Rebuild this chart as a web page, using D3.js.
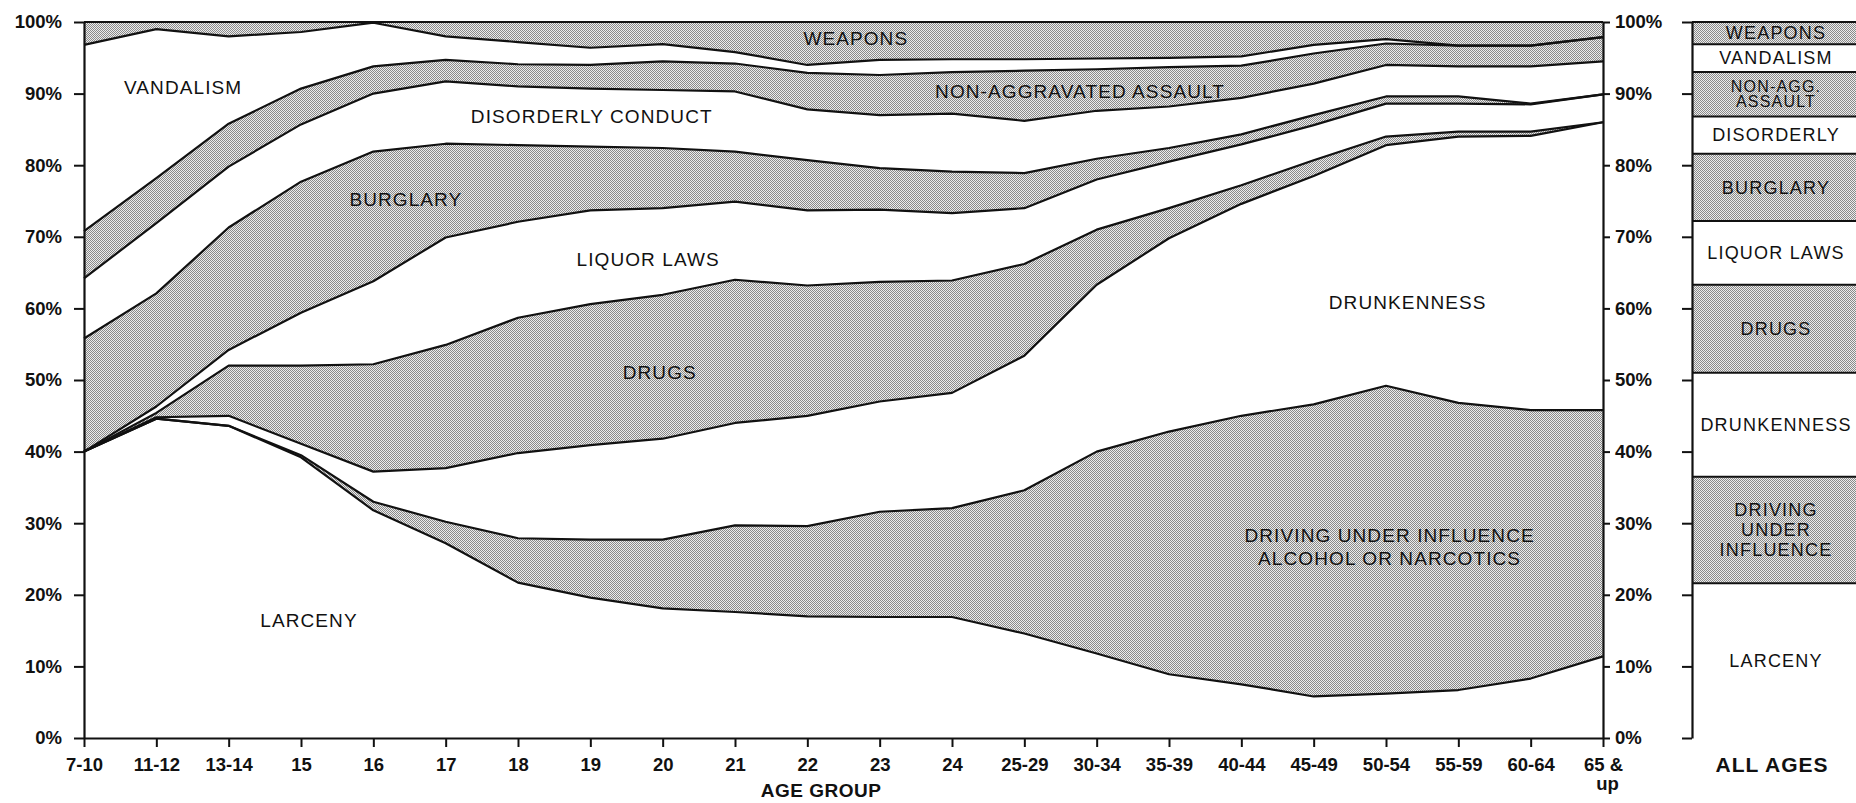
<!DOCTYPE html>
<html><head><meta charset="utf-8">
<script src="https://cdn.jsdelivr.net/npm/d3@7"></script>
<style>
html,body{margin:0;padding:0;background:#fff;overflow:hidden;}
svg{display:block;}
</style></head><body>
<svg id="chart" width="1856" height="803"></svg>
<script>
// ---- DATA (percent of arrests within each age group) ----
const ageGroups = ["7-10","11-12","13-14","15","16","17","18","19","20","21","22","23","24","25-29","30-34","35-39","40-44","45-49","50-54","55-59","60-64","65 & up"];
const larceny       = [40.0,44.6,43.6,39.2,31.8,27.2,21.7,19.6,18.1,17.6,17.0,16.9,16.9,14.6,11.8, 8.9, 7.5, 5.8, 6.2, 6.7, 8.3,11.4];
const drivingUnderInfluence = [0,0,0,0.3,1.2,3.0,6.2,8.1,9.6,12.1,12.6,14.7,15.2,20.0,28.2,33.9,37.5,40.8,43.0,40.1,37.5,34.4];
const drunkenness   = [0,0.2,1.4,1.6,4.2,7.5,11.9,13.2,14.1,14.3,15.4,15.4,16.1,18.8,23.3,27.0,29.6,31.9,33.6,37.2,38.3,40.2];
const drugs         = [0,0.6,7.0,10.9,15.0,17.2,18.9,19.7,20.1,20.0,18.2,16.7,15.7,12.8,7.7,4.2,2.6,2.2,1.2,0.7,0.6,0.0];
const liquorLaws    = [0,0.9,2.2,7.4,11.6,15.0,13.4,13.1,12.1,10.9,10.5,10.1,9.4,7.8,7.0,6.5,5.7,4.9,4.6,3.9,3.8,3.9];
const burglary      = [15.8,15.8,17.1,18.3,18.1,13.1,10.7,8.9,8.4,7.0,7.0,5.8,5.8,4.9,2.9,1.9,1.4,1.4,1.0,1.0,0.1,0.0];
const disorderly    = [8.4,9.8,8.5,8.0,8.1,8.7,8.2,8.1,8.1,8.4,7.1,7.4,8.1,7.3,6.7,5.8,5.1,4.4,4.4,4.2,5.2,4.6];
const nonAggAssault = [6.6,6.3,6.0,5.0,3.8,3.0,3.1,3.3,4.0,3.9,5.1,5.6,5.8,7.0,5.8,5.5,4.5,4.2,3.0,2.9,2.9,3.4];
const vandalism     = [26.0,20.8,12.2,7.9,6.1,3.3,3.1,2.4,2.4,1.6,1.1,2.1,1.8,1.6,1.5,1.3,1.3,1.2,0.6,0.0,0.0,0.0];
const weapons       = [3.2,1.0,2.0,1.4,0.1,2.0,2.8,3.6,3.1,4.2,6.0,5.3,5.2,5.2,5.1,5.0,4.8,3.2,2.4,3.3,3.3,2.1];
// all ages bar (same order, bottom to top)
const allAges = [21.6,14.9,14.5,12.3,8.9,9.4,5.2,6.2,3.9,3.1];
const yTicks = [0,10,20,30,40,50,60,70,80,90,100];

// ---- SETUP ----
const svg = d3.select("#chart");
const FONT = "'Liberation Sans', Arial, Helvetica, sans-serif";
const defs = svg.append("defs");
const pat = defs.append("pattern").attr("id","halftone").attr("width",2).attr("height",2)
  .attr("patternUnits","userSpaceOnUse");
pat.append("rect").attr("width",2).attr("height",2).attr("fill","#ececec");
pat.append("rect").attr("width",1).attr("height",1).attr("fill","#8a8a8a");
pat.append("rect").attr("x",1).attr("y",1).attr("width",1).attr("height",1).attr("fill","#8a8a8a");

const series = [
  {key:"larceny", values:larceny, shaded:false},
  {key:"dui", values:drivingUnderInfluence, shaded:true},
  {key:"drunkenness", values:drunkenness, shaded:false},
  {key:"drugs", values:drugs, shaded:true},
  {key:"liquor", values:liquorLaws, shaded:false},
  {key:"burglary", values:burglary, shaded:true},
  {key:"disorderly", values:disorderly, shaded:false},
  {key:"nonagg", values:nonAggAssault, shaded:true},
  {key:"vandalism", values:vandalism, shaded:false},
  {key:"weapons", values:weapons, shaded:true}
];
const keys = series.map(s=>s.key);
const table = ageGroups.map((a,i)=>{const o={age:a}; series.forEach(s=>o[s.key]=s.values[i]); return o;});
const layers = d3.stack().keys(keys)(table);

const x = d3.scalePoint().domain(ageGroups).range([84,1603]);
const y = d3.scaleLinear().domain([0,100]).range([738,22]);
const step = x.step();

const curve = d3.curveLinear;
const area = d3.area().x(d=>x(d.data.age)).y0(d=>y(d[0])).y1(d=>y(Math.min(100,d[1]))).curve(curve);
const line = d3.line().x(d=>x(d.data.age)).y(d=>y(Math.min(100,d[1]))).curve(curve);

svg.append("g").selectAll("path").data(layers).join("path")
  .attr("d",area).attr("fill",(d,i)=>series[i].shaded?"url(#halftone)":"#fff").attr("stroke","none");
svg.append("g").selectAll("path").data(layers).join("path")
  .attr("d",line).attr("fill","none").attr("stroke","#111").attr("stroke-width",2.2).attr("stroke-linejoin","round");

// ---- AXES ----
function styleAxis(g, size){
  g.attr("font-family",FONT).attr("font-size",size).attr("font-weight","bold");
  g.selectAll(".domain").attr("stroke","#111").attr("stroke-width",2.2);
  g.selectAll(".tick line").attr("stroke","#111").attr("stroke-width",2);
  g.selectAll(".tick text").attr("fill","#111");
}
const pct = d=>d+"%";
svg.append("g").attr("transform","translate(84,0)")
  .call(d3.axisLeft(y).tickValues(yTicks).tickSize(10).tickSizeOuter(0).tickPadding(12).tickFormat(pct))
  .call(g=>styleAxis(g,18.5));
svg.append("g").attr("transform","translate(1603,0)")
  .call(d3.axisRight(y).tickValues(yTicks).tickSize(7).tickSizeOuter(0).tickPadding(5).tickFormat(pct))
  .call(g=>styleAxis(g,18.5));
const xAxisG = svg.append("g").attr("transform","translate(0,738)")
  .call(d3.axisBottom(x).tickSize(9).tickSizeOuter(0).tickPadding(11))
  .call(g=>styleAxis(g,18.5));
xAxisG.selectAll(".tick text").filter(d=>d==="65 & up").each(function(){
  const t=d3.select(this); t.text(null);
  t.append("tspan").attr("x",0).text("65 &");
  t.append("tspan").attr("x",4).attr("dy","1.0em").text("up");
});
svg.append("text").attr("x",821).attr("y",797).attr("text-anchor","middle")
  .attr("font-family",FONT).attr("font-size",19).attr("font-weight","bold").attr("letter-spacing","0.5px").attr("fill","#111").text("AGE GROUP");

// ---- AREA LABELS ----
const areaLabels = [
  {t:["WEAPONS"], i:10.67, p:97.7},
  {t:["VANDALISM"], i:1.37, p:90.9},
  {t:["DISORDERLY CONDUCT"], i:7.02, p:86.8},
  {t:["NON-AGGRAVATED ASSAULT"], i:13.77, p:90.3},
  {t:["BURGLARY"], i:4.45, p:75.2},
  {t:["LIQUOR LAWS"], i:7.8, p:66.9},
  {t:["DRUGS"], i:7.96, p:51.0},
  {t:["DRUNKENNESS"], i:18.3, p:60.9},
  {t:["DRIVING UNDER INFLUENCE","ALCOHOL OR NARCOTICS"], i:18.05, p:28.3},
  {t:["LARCENY"], i:3.11, p:16.4}
];
const lg = svg.append("g").attr("font-family",FONT).attr("font-size",19).attr("fill","#111")
  .attr("letter-spacing","1.1px").attr("text-anchor","middle");
areaLabels.forEach(l=>{
  const tx = lg.append("text").attr("x",x(ageGroups[0])+l.i*step).attr("y",y(l.p)).attr("dy","0.35em");
  l.t.forEach((s,k)=>tx.append("tspan").attr("x",x(ageGroups[0])+l.i*step).attr("dy",k===0?"0.35em":"1.2em").text(s));
});

// ---- ALL AGES BAR ----
const barX0 = 1692, barX1 = 1872;
const barRow = {age:"ALL AGES"}; keys.forEach((k,i)=>barRow[k]=allAges[i]);
const barLayers = d3.stack().keys(keys)([barRow]);
svg.append("g").selectAll("rect").data(barLayers).join("rect")
  .attr("x",barX0).attr("width",barX1-barX0)
  .attr("y",d=>y(Math.min(100,d[0][1]))).attr("height",d=>y(d[0][0])-y(Math.min(100,d[0][1])))
  .attr("fill",(d,i)=>series[i].shaded?"url(#halftone)":"#fff");
svg.append("g").selectAll("line").data(barLayers).join("line")
  .attr("x1",barX0).attr("x2",barX1).attr("y1",d=>y(Math.min(100,d[0][1]))).attr("y2",d=>y(Math.min(100,d[0][1])))
  .attr("stroke","#111").attr("stroke-width",2);
svg.append("g").attr("transform",`translate(${barX0},0)`)
  .call(d3.axisLeft(y).tickValues(yTicks).tickSize(10).tickSizeOuter(0).tickFormat(""))
  .call(g=>styleAxis(g,17));
const barLabels = [["LARCENY"],["DRIVING","UNDER","INFLUENCE"],["DRUNKENNESS"],["DRUGS"],["LIQUOR LAWS"],["BURGLARY"],["DISORDERLY"],["NON-AGG.","ASSAULT"],["VANDALISM"],["WEAPONS"]];
const bl = svg.append("g").attr("font-family",FONT).attr("fill","#111").attr("text-anchor","middle");
barLayers.forEach((L,i)=>{
  const mid = y((L[0][0]+Math.min(100,L[0][1]))/2);
  const lines = barLabels[i];
  const lh = lines.length>1 ? (i===7?15:20) : 0;
  const fs = i===7 ? 16 : 18;
  const t = bl.append("text").attr("font-size",fs).attr("letter-spacing","1.2px");
  lines.forEach((s,k)=>t.append("tspan").attr("x",1776).attr("y",mid+(k-(lines.length-1)/2)*lh).attr("dy","0.35em").text(s));
});
svg.append("text").attr("x",1772).attr("y",772).attr("text-anchor","middle")
  .attr("font-family",FONT).attr("font-size",21).attr("font-weight","bold").attr("letter-spacing","1px").attr("fill","#111").text("ALL AGES");
</script>
</body></html>
